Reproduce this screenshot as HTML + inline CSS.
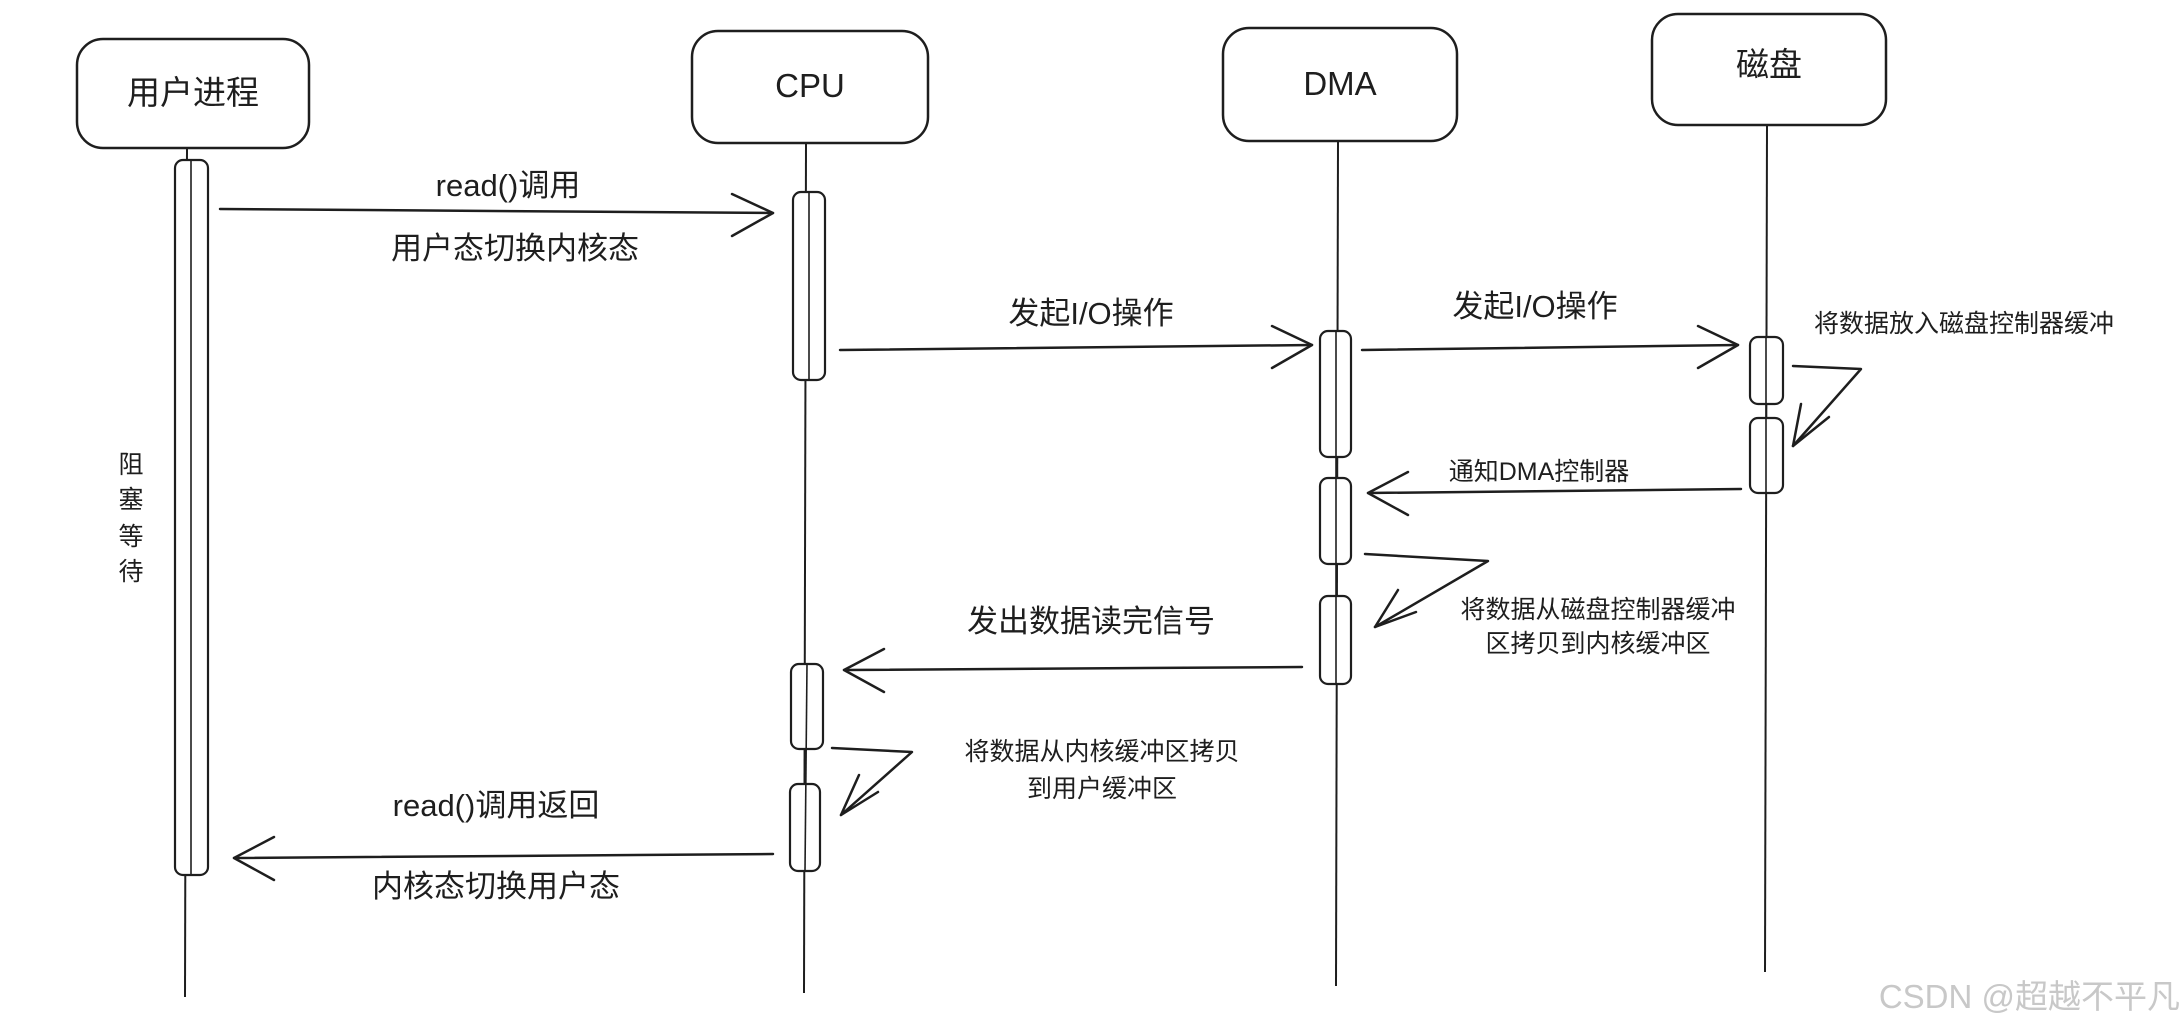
<!DOCTYPE html>
<html><head><meta charset="utf-8"><style>
html,body{margin:0;padding:0;background:#fff;width:2184px;height:1036px;overflow:hidden}
text{font-family:"Liberation Sans","Noto Sans CJK SC",sans-serif;fill:#1e1e1e}
</style></head><body>
<svg width="2184" height="1036" viewBox="0 0 2184 1036" xmlns="http://www.w3.org/2000/svg">
<g fill="none" stroke="#1e1e1e" stroke-width="2.5">
<rect x="77" y="39" width="232" height="109" rx="26"/>
<rect x="692" y="31" width="236" height="112" rx="26"/>
<rect x="1223" y="28" width="234" height="113" rx="26"/>
<rect x="1652" y="14" width="234" height="111" rx="26"/>
</g>
<g stroke="#1e1e1e" stroke-width="2">
<line x1="187" y1="148" x2="185" y2="997"/>
<line x1="806" y1="143" x2="804" y2="993"/>
<line x1="1338" y1="141" x2="1336" y2="986"/>
<line x1="1767" y1="125" x2="1765" y2="972"/>
</g>
<g fill="#fff" stroke="#1e1e1e" stroke-width="2.2">
<rect x="175" y="160" width="33" height="715" rx="8"/>
<rect x="793" y="192" width="32" height="188" rx="8"/>
<rect x="1320" y="331" width="31" height="126" rx="8"/>
<rect x="1320" y="478" width="31" height="86" rx="8"/>
<rect x="1320" y="596" width="31" height="88" rx="8"/>
<rect x="1750" y="337" width="33" height="67" rx="8"/>
<rect x="1750" y="418" width="33" height="75" rx="8"/>
<rect x="791" y="664" width="32" height="85" rx="8"/>
<rect x="790" y="784" width="30" height="87" rx="8"/>
</g>
<g stroke="#1e1e1e" stroke-width="1.6">
<line x1="191" y1="160" x2="191" y2="875"/>
<line x1="809" y1="192" x2="809" y2="380"/>
<line x1="1336" y1="331" x2="1336" y2="684"/>
<line x1="1766" y1="337" x2="1766" y2="493"/>
<line x1="807" y1="664" x2="805" y2="871"/>
</g>
<g fill="none" stroke="#1e1e1e" stroke-width="2.5" stroke-linecap="round" stroke-linejoin="round">
<path d="M220 209 L773 213"/><path d="M732 194 L773 213 L732 236"/>
<path d="M840 350 L1312 345"/><path d="M1272 326 L1312 345 L1272 368"/>
<path d="M1362 350 L1738 345"/><path d="M1698 326 L1738 345 L1698 368"/>
<path d="M1793 366 L1861 369 L1793 446"/><path d="M1801 404 L1793 446 L1829 417"/>
<path d="M1741 489 L1368 493"/><path d="M1408 472 L1368 493 L1408 515"/>
<path d="M1365 554 L1488 561 L1375 627"/><path d="M1398 590 L1375 627 L1416 612"/>
<path d="M1302 667 L844 670"/><path d="M884 649 L844 670 L884 692"/>
<path d="M832 748 L912 752 L841 815"/><path d="M859 775 L841 815 L878 792"/>
<path d="M773 854 L234 858"/><path d="M274 837 L234 858 L274 880"/>
</g>
<g font-size="33" text-anchor="middle">
<text x="193" y="104">用户进程</text>
<text x="810" y="97">CPU</text>
<text x="1340" y="95">DMA</text>
<text x="1769" y="76">磁盘</text>
</g>
<g font-size="31" text-anchor="middle">
<text x="508" y="196">read()调用</text>
<text x="515" y="259">用户态切换内核态</text>
<text x="1091" y="324">发起I/O操作</text>
<text x="1535" y="317">发起I/O操作</text>
<text x="1091" y="632">发出数据读完信号</text>
<text x="496" y="816">read()调用返回</text>
<text x="496" y="897">内核态切换用户态</text>
</g>
<g font-size="25" text-anchor="middle">
<text x="1964" y="332">将数据放入磁盘控制器缓冲</text>
<text x="1539" y="480">通知DMA控制器</text>
<text x="1598" y="618">将数据从磁盘控制器缓冲</text>
<text x="1598" y="652">区拷贝到内核缓冲区</text>
<text x="1102" y="760">将数据从内核缓冲区拷贝</text>
<text x="1102" y="797">到用户缓冲区</text>
<text x="131" y="473">阻</text>
<text x="131" y="508">塞</text>
<text x="131" y="545">等</text>
<text x="131" y="580">待</text>
</g>
<text x="2180" y="1008" font-size="33" text-anchor="end" style="fill:#c8c8c8">CSDN @超越不平凡</text>
</svg>
</body></html>
